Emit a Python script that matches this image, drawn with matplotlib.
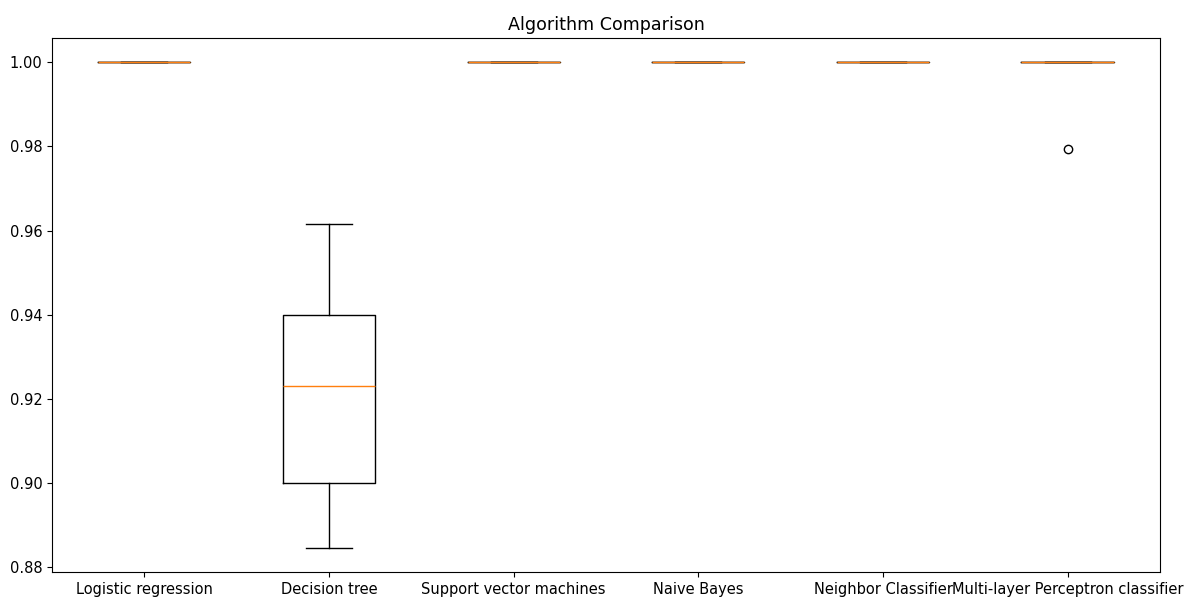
import matplotlib
matplotlib.use("Agg")
import matplotlib.pyplot as plt

# Cross-validation accuracy summaries per classifier
names = ["Logistic regression", "Decision tree", "Support vector machines",
         "Naive Bayes", "Neighbor Classifier", "Multi-layer Perceptron classifier"]
medians = [1.0, 0.9231, 1.0, 1.0, 1.0, 1.0]
q1s = [1.0, 0.9000, 1.0, 1.0, 1.0, 1.0]
q3s = [1.0, 0.9400, 1.0, 1.0, 1.0, 1.0]
whis_lo = [1.0, 0.8846, 1.0, 1.0, 1.0, 1.0]
whis_hi = [1.0, 0.9615, 1.0, 1.0, 1.0, 1.0]
outliers = [[], [], [], [], [], [0.9794]]

stats = []
for n, m, a, b, lo, hi, fl in zip(names, medians, q1s, q3s, whis_lo, whis_hi, outliers):
    stats.append(dict(label=n, med=m, q1=a, q3=b, whislo=lo, whishi=hi, fliers=fl))

plt.rcParams["font.size"] = 10.5
plt.rcParams["lines.linewidth"] = 1.1

fig = plt.figure(figsize=(11.93, 6.02), dpi=100)
ax = fig.add_axes([52 / 1193, 30 / 602, 1108 / 1193, 534 / 602])
ax.bxp(stats)
ax.tick_params(labelsize=10.5)
ax.set_title("Algorithm Comparison", fontsize=12.6)
fig.savefig("out.png", dpi=100)
